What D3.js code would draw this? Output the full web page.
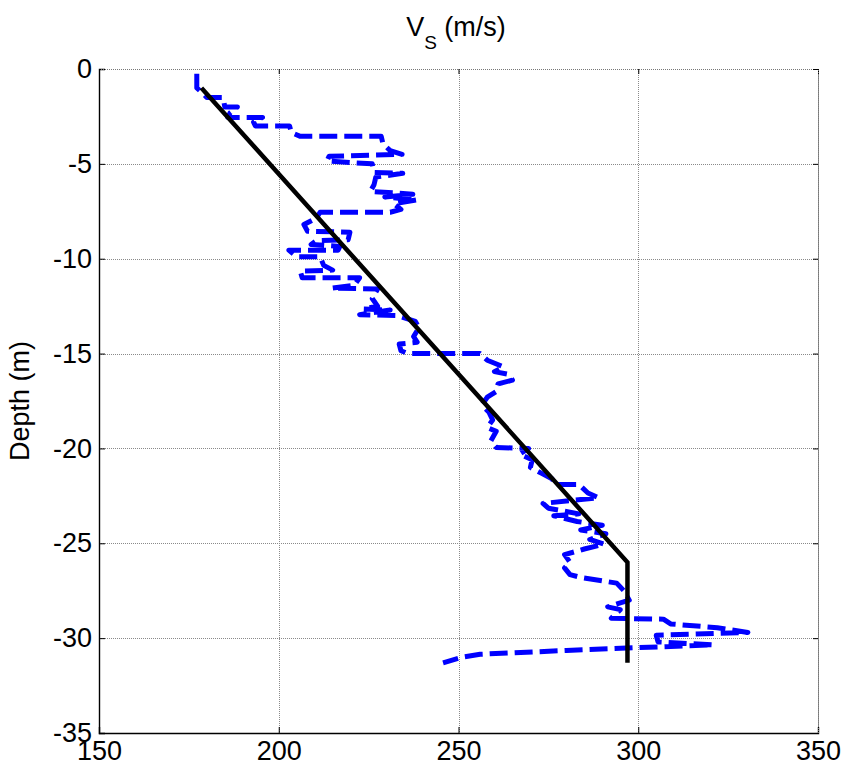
<!DOCTYPE html>
<html><head><meta charset="utf-8">
<script src="https://cdn.jsdelivr.net/npm/d3@7"></script>
<style>
body{margin:0;background:#fff}
text{font-family:"Liberation Sans",Arial,Helvetica,sans-serif;fill:#000}
</style>
</head><body>
<svg id="c" width="845" height="768"></svg>
<script>
// ---- data ----
const xTicks = [150, 200, 250, 300, 350];
const yTicks = [0, -5, -10, -15, -20, -25, -30, -35];

// measured shear-wave velocity profile (blue dashed)
const profileVs = [
  177.2,177.2,179.0,180.0,184.5,185.0,188.5,186.5,185.8,195.5,
  193.0,193.5,203.0,203.5,206.0,228.5,229.0,231.0,234.3,214.0,
  213.4,226.0,226.5,234.5,227.0,226.5,225.5,237.3,229.5,238.5,
  232.0,234.0,231.0,211.5,210.5,207.0,208.0,219.8,219.3,210.5,
  209.0,217.0,216.5,202.8,205.0,211.5,212.5,215.0,206.0,206.5,
  222.5,221.0,214.8,227.5,226.0,227.5,223.5,231.0,222.5,233.0,
  238.0,239.0,237.5,238.5,233.5,234.0,236.0,256.0,258.0,262.5,
  260.0,264.0,265.0,261.0,260.5,258.0,256.5,258.5,259.5,258.0,
  260.5,259.0,260.5,269.5,267.0,270.5,270.0,273.0,276.0,277.0,
  283.5,286.0,289.0,273.5,275.0,283.5,276.5,283.0,290.0,284.0,
  291.0,286.5,290.5,285.0,279.5,281.0,279.5,281.0,284.0,294.0,
  296.0,297.5,291.5,295.0,292.5,307.0,309.0,322.0,330.5,305.0,
  305.5,320.8,300.0,280.0,256.0,251.0,245.7
];
const profileDepth = [
  -0.25,-1.0,-1.3,-1.5,-1.5,-2.0,-2.0,-2.3,-2.55,-2.55,
  -2.8,-3.0,-3.0,-3.35,-3.55,-3.55,-3.95,-4.3,-4.5,-4.6,
  -4.85,-5.0,-5.45,-5.5,-5.7,-6.1,-6.45,-6.6,-6.75,-6.9,
  -7.1,-7.4,-7.55,-7.55,-7.85,-8.2,-8.55,-8.6,-9.0,-9.05,
  -9.25,-9.35,-9.55,-9.55,-9.9,-9.9,-10.35,-10.6,-10.65,-11.0,
  -11.0,-11.4,-11.55,-11.6,-12.1,-12.5,-12.65,-12.7,-12.95,-13.0,
  -13.3,-13.65,-14.1,-14.4,-14.5,-14.85,-15.0,-15.0,-15.35,-15.7,
  -15.95,-16.1,-16.4,-16.6,-17.0,-17.3,-17.7,-18.1,-18.5,-18.9,
  -19.1,-19.6,-19.95,-20.0,-20.3,-20.6,-21.0,-21.3,-21.6,-21.9,
  -21.9,-22.35,-22.6,-22.9,-23.15,-23.45,-23.55,-23.85,-24.05,-24.3,
  -24.5,-24.8,-25.05,-25.3,-25.6,-26.0,-26.3,-26.65,-26.8,-27.1,
  -27.5,-28.0,-28.35,-28.5,-28.95,-29.0,-29.25,-29.45,-29.7,-29.85,
  -30.2,-30.35,-30.5,-30.65,-30.85,-31.0,-31.3
];

// fitted trend (black solid)
const trendVs = [178.5, 297.0, 297.0];
const trendDepth = [-1.0, -26.0, -31.3];

// ---- chart ----
const svg = d3.select("#c");
const L = 99, R = 818, T = 69, B = 733;
const x = d3.scaleLinear().domain([150, 350]).range([L, R]);
const y = d3.scaleLinear().domain([-35, 0]).range([B, T]);

// grid
const grid = svg.append("g").attr("stroke", "#8a8a8a").attr("stroke-width", 1)
  .attr("stroke-dasharray", "1,1").attr("shape-rendering", "crispEdges");
grid.selectAll("line.v").data(xTicks.slice(1)).join("line")
  .attr("x1", d => Math.round(x(d)) + 0.5).attr("x2", d => Math.round(x(d)) + 0.5)
  .attr("y1", T).attr("y2", B);
grid.selectAll("line.h").data(yTicks.slice(0, -1)).join("line")
  .attr("y1", d => Math.round(y(d)) + 0.5).attr("y2", d => Math.round(y(d)) + 0.5)
  .attr("x1", L).attr("x2", R);

// axes
const fmt = d => String(d);
const ax = svg.append("g").attr("transform", `translate(0,${B})`)
  .call(d3.axisBottom(x).tickValues(xTicks).tickSize(-6).tickPadding(8).tickFormat(fmt));
const ay = svg.append("g").attr("transform", `translate(${L},0)`)
  .call(d3.axisLeft(y).tickValues(yTicks).tickSize(-6).tickPadding(7).tickFormat(fmt));
const at = svg.append("g").attr("transform", `translate(0,${T})`)
  .call(d3.axisTop(x).tickValues(xTicks).tickSize(-5).tickFormat(""));
const ar = svg.append("g").attr("transform", `translate(${R},0)`)
  .call(d3.axisRight(y).tickValues(yTicks).tickSize(-5).tickFormat(""));
[ax, ay].forEach(g => {
  g.select(".domain").attr("stroke", "#000").attr("stroke-width", 1.4);
  g.selectAll(".tick line").attr("stroke", "#000");
  g.selectAll(".tick text").attr("font-size", 27).attr("font-family", '"Liberation Sans",Arial,sans-serif').attr("fill", "#000");
});
[at, ar].forEach(g => {
  g.select(".domain").attr("stroke", "#777").attr("stroke-width", 1).attr("stroke-dasharray", "1,1");
  g.selectAll(".tick line").attr("stroke", "#000");
});

// lines
const profile = profileVs.map((v, i) => [v, profileDepth[i]]);
const trend = trendVs.map((v, i) => [v, trendDepth[i]]);
const line = d3.line().x(d => x(d[0])).y(d => y(d[1]));

svg.append("path").datum(profile).attr("d", line)
  .attr("fill", "none").attr("stroke", "#0000ff").attr("stroke-width", 5)
  .attr("stroke-dasharray", "18,7").attr("stroke-linejoin", "round");

svg.append("path").datum(trend).attr("d", line)
  .attr("fill", "none").attr("stroke", "#000").attr("stroke-width", 4.5)
  .attr("stroke-linejoin", "miter");

// title
const title = svg.append("text").attr("x", 456).attr("y", 36)
  .attr("text-anchor", "middle").attr("font-size", 27);
title.append("tspan").text("V");
title.append("tspan").attr("font-size", 19).attr("dy", 13).text("S");
title.append("tspan").attr("dy", -13).text(" (m/s)");

// y label
svg.append("text").attr("transform", `translate(29,${(T + B) / 2}) rotate(-90)`)
  .attr("text-anchor", "middle").attr("font-size", 27).text("Depth (m)");
</script>
</body></html>
